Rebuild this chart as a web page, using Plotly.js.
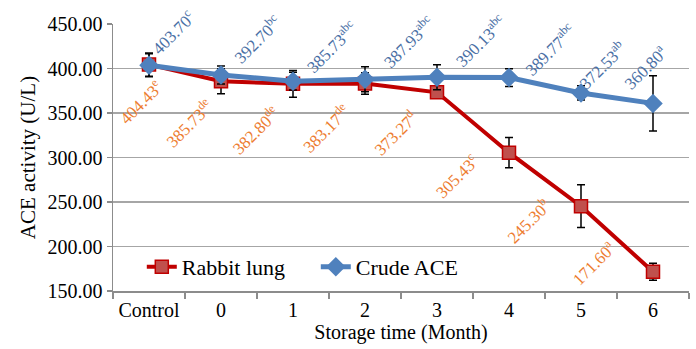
<!DOCTYPE html>
<html>
<head>
<meta charset="utf-8">
<script src="https://cdn.plot.ly/plotly-3.0.1.min.js"></script>
<style>html,body{margin:0;padding:0;background:#fff;}#chart{width:696px;height:349px;}</style>
</head>
<body>
<div id="chart"></div>
<script>
// ---- data ----
var categories = ["Control", "0", "1", "2", "3", "4", "5", "6"];
var rabbitLung = [404.43, 385.73, 382.80, 383.17, 373.27, 305.43, 245.30, 171.60];
var rabbitErr  = [13, 14, 15, 12, 6, 17, 24, 9.5];
var rabbitLetters = ["e", "de", "de", "de", "d", "c", "b", "a"];
var crudeACE   = [403.70, 392.70, 385.73, 387.93, 390.13, 389.77, 372.53, 360.80];
var crudeErr   = [13, 10, 10, 14, 14, 10, 8, 31];
var crudeLetters = ["c", "bc", "abc", "abc", "abc", "abc", "ab", "a"];

// label placement offsets (pixels, label centre relative to its point)
var rabbitOffsets = [[-9,-37],[-32,-42],[-38,-46],[-39,-45],[-42,-41],[-53,-23],[-53,-15],[-60,9]];
var crudeOffsets  = [[24,33],[36,36],[38,34],[43,37],[43,36],[40,28],[21,28],[-8,36]];

var serif = "Liberation Serif";

var traces = [
  {x: categories, y: rabbitLung, name: "Rabbit lung", type: "scatter", mode: "lines+markers",
    line: {color: "#C00000", width: 4},
    marker: {symbol: "square", size: 13, color: "#C0504D", line: {color: "#C00000", width: 1.5}},
    error_y: {type: "data", array: rabbitErr, visible: true, color: "#000", thickness: 1.5, width: 4}},
  {x: categories, y: crudeACE, name: "Crude ACE", type: "scatter", mode: "lines+markers",
    line: {color: "#4F81BD", width: 5},
    marker: {symbol: "diamond", size: 15, color: "#4F81BD"},
    error_y: {type: "data", array: crudeErr, visible: true, color: "#000", thickness: 1.5, width: 4}}
];

var annotations = [];
categories.forEach(function(c, i){
  annotations.push({x: i, y: rabbitLung[i], xref: "x", yref: "y", showarrow: false,
    text: rabbitLung[i].toFixed(2) + "<sup>" + rabbitLetters[i] + "</sup>", textangle: -45,
    xshift: rabbitOffsets[i][0], yshift: rabbitOffsets[i][1],
    font: {family: serif, size: 17, color: "#ED7D31"}});
  annotations.push({x: i, y: crudeACE[i], xref: "x", yref: "y", showarrow: false,
    text: crudeACE[i].toFixed(2) + "<sup>" + crudeLetters[i] + "</sup>", textangle: -45,
    xshift: crudeOffsets[i][0], yshift: crudeOffsets[i][1],
    font: {family: serif, size: 17, color: "#4A6FA5"}});
});

var layout = {
  width: 696, height: 349, margin: {l: 113, r: 7, t: 24, b: 58, pad: 0},
  paper_bgcolor: "#fff", plot_bgcolor: "#fff",
  font: {family: serif, size: 20, color: "#000"}, showlegend: true,
  legend: {orientation: "h", x: 0.05, y: 0.09, xanchor: "left", yanchor: "middle",
    entrywidth: 129, entrywidthmode: "pixels",
    bgcolor: "rgba(255,255,255,0)", font: {family: serif, size: 22, color: "#000"}},
  xaxis: {type: "category", range: [-0.5, 7.5], showgrid: false, showline: true, linecolor: "#8C8C8C", linewidth: 1.5,
    ticks: "outside", tickson: "boundaries", ticklen: 6, tickcolor: "#8C8C8C", tickwidth: 1.5,
    tickfont: {family: serif, size: 20, color: "#000"},
    title: {text: "Storage time (Month)", font: {family: serif, size: 20, color: "#000"}, standoff: 2},
    zeroline: false, fixedrange: true},
  yaxis: {range: [150, 450], dtick: 50, tick0: 150, tickformat: ".2f", showgrid: true, gridcolor: "#A6A6A6", gridwidth: 1.5,
    showline: true, linecolor: "#8C8C8C", linewidth: 1.5, ticks: "outside", ticklen: 5, tickcolor: "#8C8C8C", tickwidth: 1.5,
    tickfont: {family: serif, size: 20, color: "#000"},
    title: {text: "ACE activity (U/L)", font: {family: serif, size: 21, color: "#000"}, standoff: 6},
    zeroline: false, fixedrange: true},
  annotations: annotations
};

try {
  Plotly.newPlot("chart", traces, layout, {displayModeBar: false, staticPlot: true});
} catch (e) {}
</script>
</body>
</html>
